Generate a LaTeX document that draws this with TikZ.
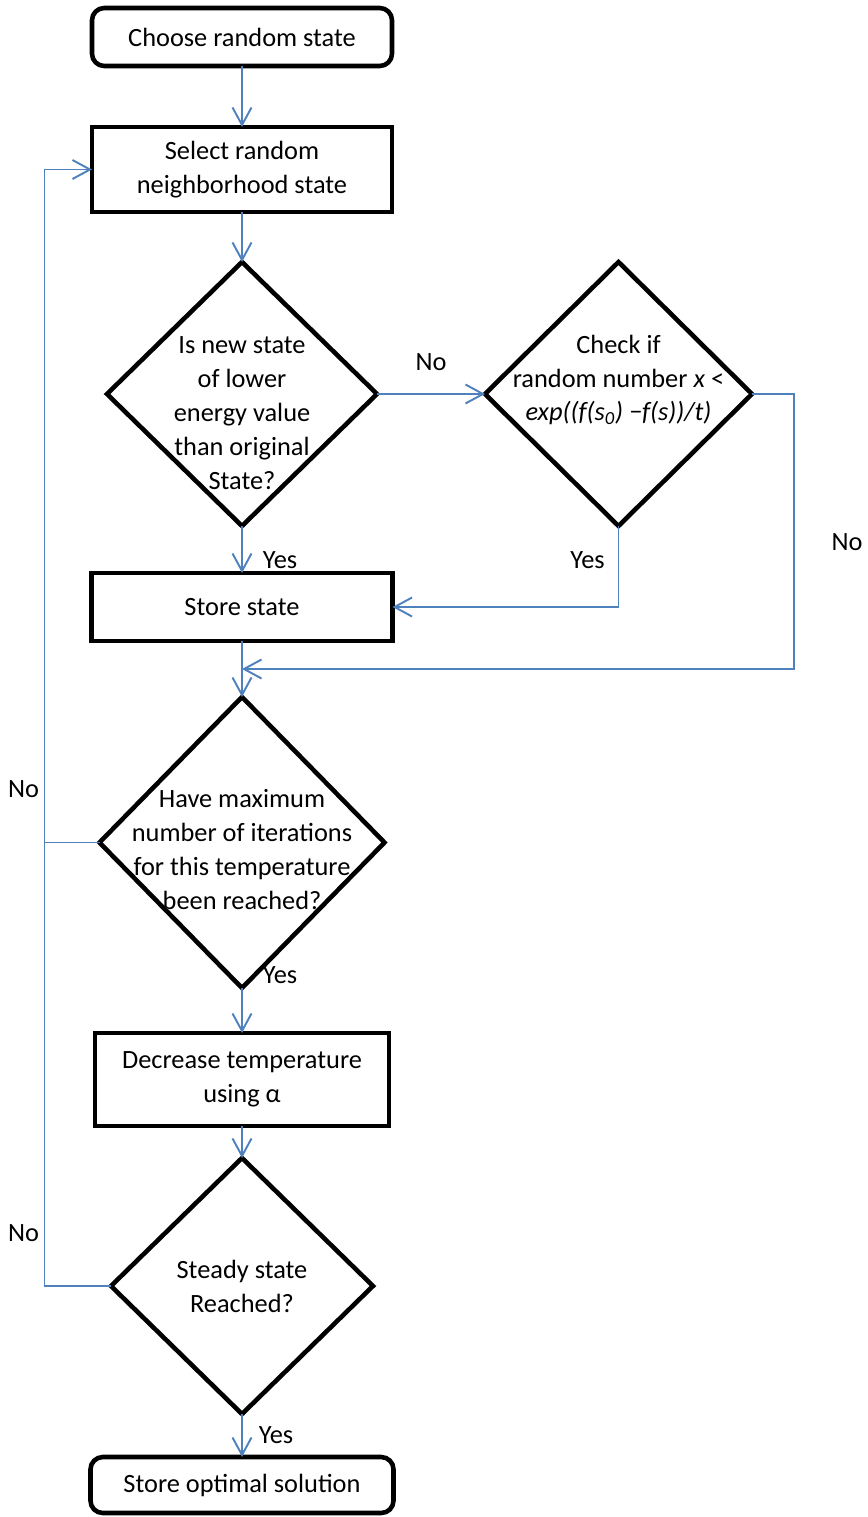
\documentclass[tikz,border=0pt]{standalone}
\usepackage{fontspec}
\setmainfont{Carlito}
\usetikzlibrary{shapes,arrows.meta,positioning,calc}
\definecolor{lineBlue}{HTML}{4F81BD}

\begin{document}
\begin{tikzpicture}[
            every node/.style={
                    font=\fontsize{15}{19.3}\selectfont
                },
            terminal/.style={
                    rectangle,
                    rounded corners=7pt,
                    draw=black,
                    line width=2.6pt,
                    outer sep=0pt,
                    minimum width=6cm,
                    align=center
                },
            box/.style={
                    rectangle,
                    draw=black,
                    line width=2.6pt,
                    outer sep=0pt,
                    minimum width=6cm,
                    align=center
                },
            decision/.style={
                    diamond,
                    draw=black,
                    line width=2.6pt,
                    outer sep=0pt,
                    inner sep=0pt
                },
            txt/.style={
                    align=center
                },
            arrow/.style={
                    -{Straight Barb[length=3.5mm,width=3.8mm]},
                    draw=lineBlue,
                    line width=1.1pt
                },
            line/.style={
                    draw=lineBlue,
                    line width=1.1pt
                }
        ]
        \useasboundingbox (0,0) rectangle (17.34,-30.34);

        % Start
        \node[terminal, minimum height=1.16cm] (start) at (4.84,-0.74) {Choose random state};

        \node[box, minimum height=1.7cm, below=1.22cm of start] (select) {Select random\\neighborhood state};

        % Decisions
        \node[decision, minimum width=5.4cm, minimum height=5.28cm, below=1cm of select] (lower) {};
        \node[txt, yshift=-0.38cm] (lowerText) at (lower) {Is new state\\of lower\\energy value\\than original\\State?};

        \node[decision, minimum width=5.34cm, minimum height=5.28cm, right=2.16cm of lower] (accept) {};
        \node[txt, yshift=0.28cm] (acceptText) at (accept) {Check if\\random number \textit{x} <\\\textit{exp((f(s\textsubscript{0}) −f(s))/t)}};

        \node[box, minimum width=6.02cm, minimum height=1.36cm, below=0.94cm of lower] (store) {Store state};

        \node[decision, minimum width=5.7cm, minimum height=5.82cm, below=1.12cm of store] (maxIter) {};
        \node[txt, yshift=-0.14cm] (maxIterText) at (maxIter) {Have maximum\\number of iterations\\for this temperature\\been reached?};

        \node[box, minimum width=5.88cm, minimum height=1.86cm, below=0.9cm of maxIter] (decrease) {Decrease temperature\\using α};

        \node[decision, minimum width=5.24cm, minimum height=5.12cm, below=0.64cm of decrease] (steady) {};
        \node[txt] (steadyText) at (steady) {Steady state\\Reached?};

        % End
        \node[terminal, minimum width=6.06cm, minimum height=1.12cm, below=0.86cm of steady] (final) {Store optimal solution};

        % Junctions
        \coordinate (merge) at ($(store.south)!0.5!(maxIter.north)$);

        % Connections
        \draw[arrow] (start) -- (select);
        \draw[arrow] (select) -- (lower);

        \draw[arrow] (lower) -- node[midway, yshift=0.64cm] {No} (accept);
        \draw[arrow] (lower) -- node[pos=0.72, xshift=0.76cm] {Yes} (store);

        \draw[arrow] (accept.south) |- node[pos=0.21, xshift=-0.62cm] {Yes} (store.east);
        \draw[arrow] (accept.east) -- ++(0.84,0) coordinate (rightTurn)
            |- node[pos=0.27, xshift=1.06cm] {No} (merge);

        \draw[arrow] (store) -- (maxIter);

        \draw[arrow] (maxIter.west) -- ++(-1.1,0) coordinate (leftTurn)
            |- node[pos=0.04, xshift=-0.42cm] {No} (select.west);
        \draw[arrow] (maxIter) -- node[pos=0, xshift=0.76cm, yshift=0.26cm] {Yes} (decrease);

        \draw[arrow] (decrease) -- (steady);

        \draw[line] (steady.west) -| node[pos=0.56, xshift=-0.42cm] {No} (leftTurn);
        \draw[arrow] (steady) -- node[pos=0.49, xshift=0.68cm] {Yes} (final);

    \end{tikzpicture}
\end{document}
